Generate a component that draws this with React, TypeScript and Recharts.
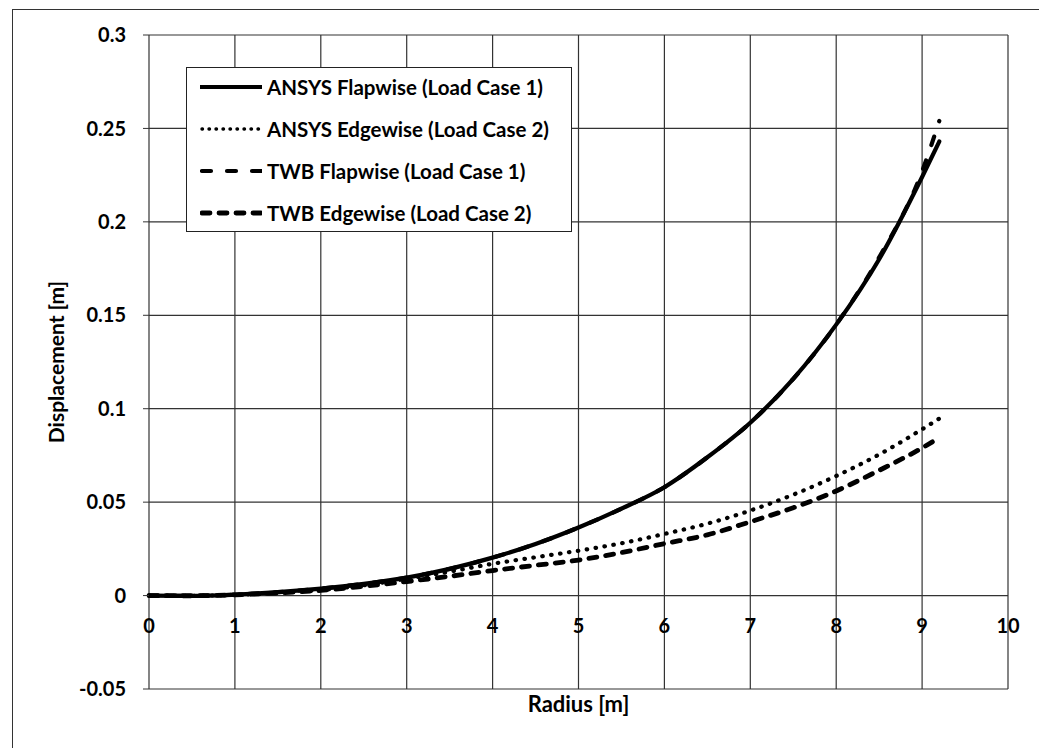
import React from 'react';
import { CartesianGrid, Label, Legend, Line, LineChart, XAxis, YAxis } from 'recharts';

// radius stations along the blade [m]
const radius = [0, 0.5, 1, 1.5, 2, 2.5, 3, 3.5, 4, 4.5, 5, 5.5, 6, 6.5, 7, 7.5, 8, 8.5, 9, 9.2];

// tip displacement [m]
const ansysFlap = [0, -0.0002, 0.0005, 0.0018, 0.0037, 0.0063, 0.0096, 0.0143, 0.0203, 0.0276, 0.0364, 0.0465, 0.058, 0.074, 0.0925, 0.116, 0.145, 0.18, 0.224, 0.243];
const ansysEdge = [0, -0.0001, 0.0004, 0.0015, 0.003, 0.0055, 0.009, 0.0128, 0.017, 0.0205, 0.024, 0.028, 0.033, 0.0385, 0.0455, 0.054, 0.064, 0.0755, 0.089, 0.0947];
const twbFlap = [0, -0.0002, 0.0005, 0.0018, 0.0037, 0.0063, 0.0096, 0.0143, 0.0203, 0.0276, 0.0364, 0.0465, 0.058, 0.074, 0.0925, 0.116, 0.145, 0.181, 0.227, 0.254];
const twbEdge = [0, -0.0001, 0.0004, 0.0014, 0.0028, 0.005, 0.0075, 0.0103, 0.0134, 0.0162, 0.019, 0.023, 0.0278, 0.0325, 0.0395, 0.047, 0.056, 0.067, 0.079, 0.0845];

const xTicks = [0, 1, 2, 3, 4, 5, 6, 7, 8, 9, 10];
const yTicks = [-0.05, 0, 0.05, 0.1, 0.15, 0.2, 0.25, 0.3];

const series = [
  { key: 'ansysFlap', name: 'ANSYS Flapwise (Load Case 1)', width: 4.2, dash: undefined },
  { key: 'ansysEdge', name: 'ANSYS Edgewise (Load Case 2)', width: 4.2, dash: '0.5 8.5' },
  { key: 'twbFlap', name: 'TWB Flapwise (Load Case 1)', width: 4.2, dash: '9 16' },
  { key: 'twbEdge', name: 'TWB Edgewise (Load Case 2)', width: 4.8, dash: '8 9' },
];

const data = radius.map((r, i) => ({
  r,
  ansysFlap: ansysFlap[i],
  ansysEdge: ansysEdge[i],
  twbFlap: twbFlap[i],
  twbEdge: twbEdge[i],
}));

const FONT = 'Lato, "Open Sans", sans-serif';

const XTick = (props: any) => {
  const { x, y, payload } = props;
  // labels sit just under the zero line, like Excel's "axis crosses at 0"
  return (
    <text x={x} y={y - 61} textAnchor="middle" dominantBaseline="middle"
      fontFamily={FONT} fontWeight={700} fontSize={20} fill="#000">
      {payload.value}
    </text>
  );
};

const LegendBox = () => (
  <div style={{
    width: 386, height: 165, boxSizing: 'border-box', border: '1.5px solid #222',
    background: '#fff', fontFamily: FONT, fontWeight: 700, fontSize: 20.5, color: '#000',
  }}>
    {series.map((s, i) => (
      <div key={s.key} style={{ position: 'absolute', left: 14, top: 20 + 42 * i - 12, height: 24, display: 'flex', alignItems: 'center' }}>
        <svg width={62} height={10} style={{ display: 'block' }}>
          <line x1={s.dash ? 2 : 0} y1={5} x2={62} y2={5} stroke="#000"
            strokeWidth={s.dash === '0.5 8.5' ? 3.4 : s.width} strokeDasharray={s.dash === '0.5 8.5' ? '0.5 6.5' : s.dash}
            strokeLinecap={s.dash ? 'round' : 'butt'} />
        </svg>
        <span style={{ marginLeft: 5, whiteSpace: 'nowrap' }}>{s.name}</span>
      </div>
    ))}
  </div>
);

export default function App() {
  return (
    <div style={{ position: 'absolute', left: 0, top: 0, width: 1039, height: 748, overflow: 'hidden', background: '#fff' }}>
      <div style={{ position: 'absolute', left: 12, top: 9, width: 1100, height: 800, border: '1.5px solid #333' }} />
      <div style={{ position: 'absolute', left: 0, top: 0 }}>
        <LineChart width={1039} height={748} data={data} margin={{ top: 35, right: 31, bottom: 19, left: 49 }}>
          <CartesianGrid stroke="#333" strokeWidth={1.2} />
          <XAxis dataKey="r" type="number" domain={[0, 10]} ticks={xTicks} height={40}
            axisLine={false} tickLine={false} tickSize={0} tickMargin={0} tick={<XTick />} interval={0}>
            <Label value="Radius [m]" position="insideTop" offset={7}
              style={{ fontFamily: FONT, fontWeight: 700, fontSize: 22, fill: '#000' }} />
          </XAxis>
          <YAxis type="number" domain={[-0.05, 0.3]} ticks={yTicks} width={100} interval={0}
            axisLine={false} tickSize={6} tickMargin={17} tickLine={{ stroke: '#333' }}
            tick={{ fontFamily: FONT, fontWeight: 700, fontSize: 20, fill: '#000' }}>
            <Label value="Displacement [m]" angle={-90} position="insideLeft" offset={8}
              style={{ fontFamily: FONT, fontWeight: 700, fontSize: 21, fill: '#000', textAnchor: 'middle' }} />
          </YAxis>
          <Legend layout="vertical" align="center" verticalAlign="middle" content={<LegendBox />}
            wrapperStyle={{ left: 186, top: 67, width: 386, height: 165 }} />
          {series.map((s) => (
            <Line key={s.key} dataKey={s.key} name={s.name} type="monotone" stroke="#000"
              strokeWidth={s.width} strokeDasharray={s.dash} strokeLinecap="round"
              dot={false} activeDot={false} isAnimationActive={false} />
          ))}
        </LineChart>
      </div>
    </div>
  );
}
